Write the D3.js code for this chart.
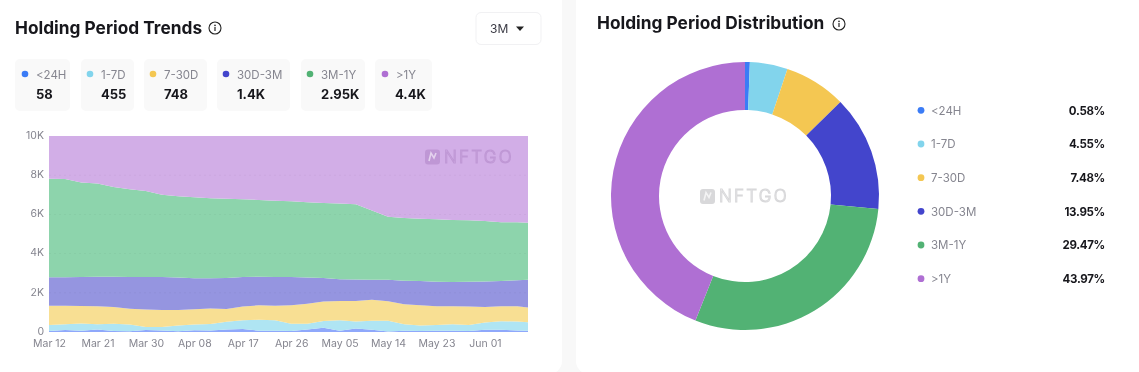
<!DOCTYPE html>
<html><head><meta charset="utf-8">
<script src="https://cdn.jsdelivr.net/npm/d3@7/dist/d3.min.js"></script>
<style>
html,body{margin:0;padding:0;background:#fff;overflow:hidden}
svg{display:block;font-family:Inter,"Noto Sans",sans-serif;filter:blur(.35px)}
</style></head><body><svg id="c" width="1139" height="372"></svg>
<script>
const categories=["<24H","1-7D","7-30D","30D-3M","3M-1Y",">1Y"];
const colors=["#3b7cf6","#82d4ec","#f4c752","#4345cc","#52b274","#af6fd3"];
const areaColors=["#8fa8fb","#afe5f3","#f8df93","#9595e0","#8dd4ac","#d2aee7"];
const latestLabels=["58","455","748","1.4K","2.95K","4.4K"];
const shareLabels=["0.58%","4.55%","7.48%","13.95%","29.47%","43.97%"];
const shares=[0.58,4.55,7.48,13.95,29.47,43.97];
const dates=["Mar 12","Mar 15","Mar 18","Mar 21","Mar 24","Mar 27","Mar 30","Apr 2","Apr 5","Apr 8","Apr 11","Apr 14","Apr 17","Apr 20","Apr 23","Apr 26","Apr 29","May 2","May 5","May 8","May 11","May 14","May 17","May 20","May 23","May 26","May 29","Jun 1","Jun 4","Jun 7","Jun 9"];
const xTickLabels=["Mar 12","Mar 21","Mar 30","Apr 08","Apr 17","Apr 26","May 05","May 14","May 23","Jun 01"];
const yTickValues=[0,2000,4000,6000,8000,10000];
const under24h=[50,100,70,130,50,40,100,80,40,90,80,130,150,70,60,50,130,220,60,180,120,30,70,50,70,60,50,120,120,80,60];
const d1to7=[310,300,360,260,370,340,160,180,290,290,330,390,450,550,540,370,290,340,540,360,460,540,330,280,290,330,310,360,430,450,440];
const d7to30=[980,940,900,930,850,800,890,860,790,780,790,650,700,740,740,940,1020,990,980,1040,1070,1000,1020,1030,960,930,940,800,770,790,750];
const d30to3m=[1450,1450,1470,1500,1550,1630,1650,1680,1660,1580,1540,1580,1510,1460,1470,1440,1340,1210,1110,1100,1020,1090,1200,1240,1240,1230,1260,1300,1280,1320,1420];
const m3to1y=[5030,5010,4830,4760,4580,4470,4400,4200,4150,4140,4090,4050,3960,3920,3890,3870,3840,3820,3860,3840,3530,3220,3200,3180,3190,3170,3140,3080,3000,2960,2910];
const over1y=[2180,2200,2370,2420,2600,2720,2800,3000,3070,3120,3170,3200,3230,3260,3300,3330,3380,3420,3450,3480,3800,4120,4180,4220,4250,4280,4300,4340,4400,4400,4420];
const seriesValues=[under24h,d1to7,d7to30,d30to3m,m3to1y,over1y];

const svg=d3.select("#c");
const INK="#17171c",GREY="#85858f";
const parse=d3.utcParse("%b %d %Y");
const parseTick=s=>parse(s.replace(/ 0/," ")+" 2023");
// page
svg.append("rect").attr("width",1139).attr("height",372).attr("fill","#f8f8f8");
svg.append("rect").attr("x",-30).attr("y",-30).attr("width",592).attr("height",404).attr("rx",13).attr("fill","#fff");
svg.append("rect").attr("x",576).attr("y",-30).attr("width",600).attr("height",404).attr("rx",13).attr("fill","#fff");

function info(cx,cy){
  const g=svg.append("g").attr("transform",`translate(${cx},${cy})`);
  g.append("circle").attr("r",6).attr("fill","none").attr("stroke","#222").attr("stroke-width",1.1);
  g.append("circle").attr("cy",-2.6).attr("r",.8).attr("fill","#222");
  g.append("line").attr("y1",-1).attr("y2",3).attr("stroke","#222").attr("stroke-width",1.2);
}
function title(x,y,t){svg.append("text").attr("x",x).attr("y",y).attr("font-size",17.3).attr("font-weight",650).attr("fill",INK).text(t);}
title(15,34,"Holding Period Trends");info(215,28);
title(597,29,"Holding Period Distribution");info(839,24);

// dropdown
svg.append("rect").attr("x",476).attr("y",12.5).attr("width",65).attr("height",32).attr("rx",5).attr("fill","#fff").attr("stroke","#f1f1f3");
svg.append("text").attr("x",490).attr("y",33).attr("font-size",12).attr("fill","#3a3a44").text("3M");
svg.append("path").attr("d",d3.line()([[516,26.5],[524,26.5],[520,31]])).attr("fill","#222");

// chips
const chipX=[15,81,144,217,301,375],chipW=[55,53,63,73,64,57],textX=[36,101,164,237,321,396],valueX=[36,101,164,237,321,395];
categories.forEach((c,i)=>{
  svg.append("rect").attr("x",chipX[i]).attr("y",59).attr("width",chipW[i]).attr("height",52).attr("rx",5).attr("fill","#f9f9f9");
  svg.append("circle").attr("cx",textX[i]-11).attr("cy",74).attr("r",3.3).attr("fill",colors[i]);
  svg.append("text").attr("x",textX[i]).attr("y",78.5).attr("font-size",11.5).attr("fill",GREY).text(c);
  svg.append("text").attr("x",valueX[i]).attr("y",99).attr("font-size",13).attr("font-weight",700).attr("fill",INK).text(latestLabels[i]);
});

// area chart
const x=d3.scaleUtc().domain([parse("Mar 12 2023"),parse("Jun 9 2023")]).range([49,528]);
const y=d3.scaleLinear().domain([0,10000]).range([332,136]);
const rows=dates.map((d,i)=>{const r={date:parse(d+" 2023")};categories.forEach((c,k)=>r[c]=seriesValues[k][i]);return r;});
const stacked=d3.stack().keys(categories)(rows);
const area=d3.area().x(d=>x(d.data.date)).y0(d=>y(d[0])).y1(d=>y(d[1]));
svg.append("g").selectAll("path").data(stacked).join("path").attr("d",area).attr("fill",(d,i)=>areaColors[i]);
// grid
svg.append("g").selectAll("line").data(yTickValues.slice(1,5)).join("line")
  .attr("x1",49).attr("x2",528).attr("y1",d=>y(d)).attr("y2",d=>y(d))
  .attr("stroke","#000").attr("stroke-opacity",.035).attr("stroke-dasharray","2 3");
const fmtK=d=>d===0?"0":d/1000+"K";
const yAxis=svg.append("g").attr("transform","translate(49,-1)").call(d3.axisLeft(y).tickValues(yTickValues).tickFormat(fmtK).tickSize(0).tickPadding(5));
const xAxis=svg.append("g").attr("transform","translate(0,332)").call(d3.axisBottom(x).tickValues(xTickLabels.map(parseTick)).tickFormat((d,i)=>xTickLabels[i]).tickSize(0).tickPadding(8));
[yAxis,xAxis].forEach(a=>{a.select(".domain").remove();a.selectAll("text").attr("font-size",10.5).attr("font-family","Inter,sans-serif").attr("fill","#85858f");});

function logo(x0,yc,color,opacity){
  const g=svg.append("g").attr("opacity",opacity);
  g.append("rect").attr("x",x0).attr("y",yc-7.5).attr("width",15).attr("height",15).attr("rx",3).attr("fill",color);
  g.append("path").attr("d",`M${x0+4} ${yc+4}L${x0+6} ${yc-4}L${x0+9} ${yc+1}L${x0+11} ${yc-4}`).attr("fill","none").attr("stroke","#fff").attr("stroke-opacity",.7).attr("stroke-width",1.6);
  g.append("text").attr("x",x0+19).attr("y",yc+5.8).attr("font-size",17).attr("font-weight",300).attr("letter-spacing",2.2).attr("fill","none").attr("stroke",color).attr("stroke-width",1).text("NFTGO");
}
logo(425,157,"#b990cf",.75);

// donut
const pie=d3.pie().sort(null).value(d=>d);
const arc=d3.arc().innerRadius(86).outerRadius(134);
svg.append("g").attr("transform","translate(745,196)").selectAll("path").data(pie(shares)).join("path").attr("d",arc).attr("fill",(d,i)=>colors[i]);
logo(700,196.5,"#d8d8da",1);

// donut legend
const rowY=d3.scalePoint().domain(categories).range([110.3,278.7]);
categories.forEach((c,i)=>{
  const yy=rowY(c);
  svg.append("circle").attr("cx",921).attr("cy",yy).attr("r",3.4).attr("fill",colors[i]);
  svg.append("text").attr("x",931).attr("y",yy+4.2).attr("font-size",11.5).attr("fill",GREY).text(c);
  svg.append("text").attr("x",1105).attr("y",yy+4.2).attr("text-anchor","end").attr("font-size",11.5).attr("font-weight",700).attr("letter-spacing",-0.3).attr("fill",INK).text(shareLabels[i]);
});
</script></body></html>
